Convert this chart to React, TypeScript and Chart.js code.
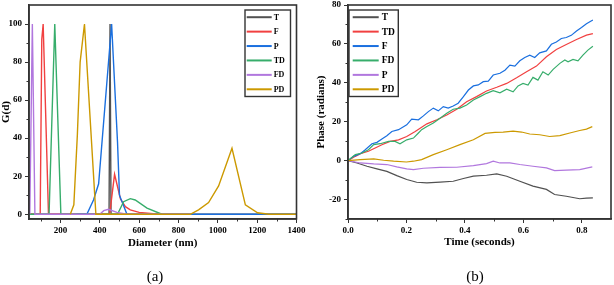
import React, { useEffect, useRef } from 'react';
import { Chart, registerables } from 'chart.js';
Chart.register(...registerables);

const FONT = '"Liberation Serif", "Times New Roman", serif';
const AXIS = '#333333';

// ---------- Chart (a): size distribution ----------
const seriesA = ['T', 'F', 'P', 'TD', 'FD', 'PD'];
const colorsA = ['#515151', '#F14040', '#1A6FDF', '#37AD6B', '#B177DE', '#CC9900'];

const diamT = [40, 447, 452, 457, 1400];
const gT = [0, 0, 100, 0, 0];
const diamF = [40, 97, 105, 112, 139, 450, 475, 505, 530, 555, 600, 700];
const gF = [0, 0, 92, 100, 0, 0, 21, 8, 4, 2.3, 1, 0];
const diamP = [280, 334, 368, 394, 460, 490, 500, 538, 1400];
const gP = [0, 0, 7.5, 16, 100, 38, 10, 0, 0];
const diamTD = [40, 142, 171, 202, 490, 521, 555, 580, 640, 716];
const gTD = [0, 0, 100, 0, 0, 6.6, 8.2, 7.5, 3.2, 0];
const diamFD = [44, 57, 70, 400, 420, 444, 487, 538, 860];
const gFD = [0, 100, 0, 0, 1.9, 2.6, 1, 0, 0];
const diamPD = [250, 268, 286, 300, 322, 380, 860, 902, 953, 1004, 1072, 1140, 1202, 1260, 1400];
const gPD = [0, 5, 42, 80, 100, 0, 0, 2.3, 6.1, 14.9, 34.7, 4.9, 0.8, 0, 0];

const xTicksA = [200, 400, 600, 800, 1000, 1200, 1400];
const xMinorA = [100, 300, 500, 700, 900, 1100, 1300];
const yTicksA = [0, 20, 40, 60, 80, 100];
const yMinorA = [10, 30, 50, 70, 90];

// ---------- Chart (b): phase vs time ----------
const seriesB = ['T', 'TD', 'F', 'FD', 'P', 'PD'];
const colorsB = ['#515151', '#F14040', '#1A6FDF', '#37AD6B', '#B177DE', '#CC9900'];

const timeT = [0, 0.031, 0.065, 0.099, 0.133, 0.167, 0.201, 0.235, 0.27, 0.315, 0.36, 0.395, 0.429, 0.474, 0.509, 0.543, 0.588, 0.633, 0.679, 0.707, 0.747, 0.793, 0.816, 0.838];
const phaseT = [0, -1.2, -2.9, -4.2, -5.5, -7.7, -9.7, -11.1, -11.4, -11.0, -10.6, -9.2, -8.0, -7.5, -6.8, -8.0, -10.6, -13.1, -14.8, -17.4, -18.3, -19.6, -19.3, -19.1];

const timeTD = [0, 0.025, 0.048, 0.07, 0.093, 0.116, 0.144, 0.173, 0.201, 0.23, 0.27, 0.304, 0.338, 0.372, 0.406, 0.44, 0.474, 0.509, 0.543, 0.577, 0.611, 0.645, 0.679, 0.713, 0.747, 0.782, 0.816, 0.838];
const phaseTD = [0, 2.2, 3.9, 4.8, 6.5, 8.2, 9.9, 10.7, 12.4, 15.0, 18.9, 21.0, 23.5, 26.4, 30.3, 32.9, 35.8, 37.7, 39.7, 42.6, 45.7, 48.6, 53.4, 57.1, 59.7, 62.3, 64.5, 65.3];

const timeF = [0, 0.019, 0.042, 0.059, 0.082, 0.099, 0.116, 0.133, 0.15, 0.173, 0.201, 0.218, 0.241, 0.258, 0.275, 0.292, 0.309, 0.326, 0.343, 0.36, 0.377, 0.395, 0.412, 0.429, 0.446, 0.463, 0.48, 0.497, 0.52, 0.537, 0.554, 0.571, 0.588, 0.605, 0.622, 0.639, 0.656, 0.679, 0.696, 0.713, 0.73, 0.747, 0.764, 0.782, 0.799, 0.816, 0.838];
const phaseF = [0, 2.2, 3.6, 5.6, 8.7, 9.4, 11.1, 12.8, 15.0, 15.9, 18.4, 21.3, 21.0, 23.0, 25.2, 27.0, 25.6, 27.8, 27.0, 28.1, 29.5, 32.9, 36.3, 38.4, 38.9, 40.6, 40.9, 44.0, 44.9, 46.5, 49.1, 48.6, 51.3, 53.0, 54.2, 53.0, 55.4, 56.4, 59.8, 61.0, 62.8, 63.3, 64.4, 66.6, 68.4, 70.4, 72.3];

const timeFD = [0, 0.025, 0.048, 0.07, 0.088, 0.11, 0.139, 0.161, 0.178, 0.201, 0.224, 0.241, 0.252, 0.27, 0.292, 0.315, 0.338, 0.36, 0.383, 0.406, 0.429, 0.452, 0.474, 0.497, 0.52, 0.543, 0.565, 0.582, 0.599, 0.616, 0.633, 0.65, 0.667, 0.685, 0.702, 0.725, 0.742, 0.753, 0.77, 0.787, 0.804, 0.821, 0.838];
const phaseFD = [0, 3.1, 3.9, 5.6, 8.2, 8.7, 9.9, 9.9, 8.7, 10.7, 11.6, 14.2, 15.9, 17.5, 19.3, 21.8, 24.4, 26.4, 27.0, 28.6, 31.2, 32.9, 34.6, 36.0, 34.9, 36.7, 35.4, 38.4, 39.7, 38.9, 42.8, 41.4, 45.7, 44.0, 46.9, 50.0, 51.7, 50.8, 52.0, 51.3, 54.2, 56.8, 58.8];

const timeP = [0, 0.042, 0.088, 0.133, 0.167, 0.201, 0.224, 0.258, 0.315, 0.372, 0.429, 0.474, 0.497, 0.52, 0.554, 0.588, 0.633, 0.679, 0.707, 0.747, 0.793, 0.836];
const phaseP = [0, -1.2, -1.7, -2.0, -3.2, -4.2, -4.6, -3.9, -3.5, -3.4, -2.6, -1.5, -0.3, -1.2, -1.2, -2.0, -2.9, -3.7, -5.1, -4.9, -4.6, -3.2];

const timePD = [0, 0.042, 0.088, 0.122, 0.156, 0.2, 0.224, 0.252, 0.292, 0.338, 0.383, 0.429, 0.469, 0.503, 0.531, 0.565, 0.594, 0.622, 0.656, 0.69, 0.725, 0.759, 0.793, 0.816, 0.836];
const phasePD = [0, 0.5, 0.9, 0.2, -0.3, -0.7, -0.3, 0.5, 3.1, 5.6, 8.2, 10.7, 14.0, 14.5, 14.7, 15.2, 14.7, 13.7, 13.3, 12.4, 12.9, 14.2, 15.5, 16.2, 17.5];

const xTicksB = [0, 0.2, 0.4, 0.6, 0.8];
const xMinorB = [0.1, 0.3, 0.5, 0.7];
const yTicksB = [-20, 0, 20, 40, 60, 80];
const yMinorB = [-30, -10, 10, 30, 50, 70];

const xs = (a: number[], b: number[]) => a.map((v, i) => ({ x: v, y: b[i] }));

const dataA = [
  xs(diamT, gT), xs(diamF, gF), xs(diamP, gP), xs(diamTD, gTD), xs(diamFD, gFD), xs(diamPD, gPD),
];
const dataB = [
  xs(timeT, phaseT), xs(timeTD, phaseTD), xs(timeF, phaseF), xs(timeFD, phaseFD), xs(timeP, phaseP), xs(timePD, phasePD),
];

// ---------- plugin: frame, minor ticks, boxed legend ----------
const decorPlugin = {
  id: 'decor',
  afterDatasetsDraw(chart: any, _args: any, o: any) {
    const { ctx, chartArea: a, scales } = chart;
    ctx.save();
    ctx.strokeStyle = AXIS;
    ctx.lineWidth = 1;
    ctx.beginPath();
    for (const v of o.minorX) {
      const px = Math.round(scales.x.getPixelForValue(v)) + 0.5;
      ctx.moveTo(px, a.bottom);
      ctx.lineTo(px, a.bottom + 2.5);
    }
    for (const v of o.minorY) {
      const py = Math.round(scales.y.getPixelForValue(v)) + 0.5;
      ctx.moveTo(a.left, py);
      ctx.lineTo(a.left - 2.5, py);
    }
    ctx.stroke();
    ctx.lineWidth = 1.6;
    ctx.strokeRect(a.left, a.top, a.right - a.left, a.bottom - a.top);

    // legend box
    const L = o.legend;
    ctx.fillStyle = '#ffffff';
    ctx.fillRect(L.left, L.top, L.width, L.height);
    ctx.lineWidth = 1.4;
    ctx.strokeStyle = AXIS;
    ctx.strokeRect(L.left, L.top, L.width, L.height);
    const rowH = L.height / o.labels.length;
    ctx.font = `bold ${L.fontSize}px ${FONT}`;
    ctx.textBaseline = 'middle';
    ctx.textAlign = 'left';
    o.labels.forEach((lab: string, i: number) => {
      const cy = L.top + rowH * (i + 0.5);
      ctx.strokeStyle = o.colors[i];
      ctx.lineWidth = 2;
      ctx.beginPath();
      ctx.moveTo(L.left + L.lineStart, cy);
      ctx.lineTo(L.left + L.lineStart + L.lineLen, cy);
      ctx.stroke();
      ctx.fillStyle = '#000';
      ctx.fillText(lab, L.left + L.lineStart + L.lineLen + L.gap, cy + 0.5);
    });
    ctx.restore();
  },
};

function axisX(min: number, max: number, ticks: number[], title: string, fmt: (v: number) => string, titlePad: number) {
  return {
    type: 'linear',
    min,
    max,
    afterBuildTicks: (s: any) => { s.ticks = ticks.map((v) => ({ value: v })); },
    afterFit: (s: any) => { s.height = 66; s.paddingLeft = 0; s.paddingRight = 0; },
    grid: { drawOnChartArea: false, drawTicks: true, tickLength: 4, tickColor: AXIS, tickWidth: 1 },
    border: { display: true, color: AXIS, width: 1.6 },
    ticks: { color: '#000', font: { family: FONT, size: 9, weight: 'bold' }, padding: 2, maxRotation: 0, autoSkip: false, callback: (v: any) => fmt(Number(v)) },
    title: { display: true, text: title, color: '#000', font: { family: FONT, size: 11, weight: 'bold' }, padding: { top: 0, bottom: titlePad } },
  };
}

function axisY(min: number, max: number, ticks: number[], title: string, width: number, titlePad: number) {
  return {
    type: 'linear',
    min,
    max,
    afterBuildTicks: (s: any) => { s.ticks = ticks.map((v) => ({ value: v })); },
    afterFit: (s: any) => { s.width = width; s.paddingTop = 0; s.paddingBottom = 0; },
    grid: { drawOnChartArea: false, drawTicks: true, tickLength: 4, tickColor: AXIS, tickWidth: 1 },
    border: { display: true, color: AXIS, width: 1.6 },
    ticks: { color: '#000', font: { family: FONT, size: 9, weight: 'bold' }, padding: 3, autoSkip: false, callback: (v: any) => String(v) },
    title: { display: true, text: title, color: '#000', font: { family: FONT, size: 11, weight: 'bold' }, padding: { top: titlePad, bottom: 0 } },
  };
}

function makeDatasets(labels: string[], colors: string[], data: any[], lw: number) {
  // reversed so the last series is drawn on top
  return labels
    .map((l, i) => ({
      label: l,
      data: data[i],
      borderColor: colors[i],
      backgroundColor: colors[i],
      borderWidth: lw,
      pointRadius: 0,
      tension: 0,
      fill: false,
    }))
    .reverse();
}

function configA(): any {
  return {
    type: 'line',
    data: { datasets: makeDatasets(seriesA, colorsA, dataA, 1.4) },
    options: {
      responsive: false,
      animation: false,
      layout: { padding: { left: 0, right: 10.5, top: 5, bottom: 0 } },
      scales: {
        x: axisX(40, 1400, xTicksA, 'Diameter (nm)', (v) => String(v), 35),
        y: axisY(-2.5, 110, yTicksA, 'G(d)', 29, 0),
      },
      plugins: {
        legend: { display: false },
        tooltip: { enabled: false },
        decor: {
          minorX: xMinorA,
          minorY: yMinorA,
          labels: seriesA,
          colors: colorsA,
          legend: { left: 245, top: 10, width: 45.5, height: 86.5, lineStart: 1.7, lineLen: 25, gap: 2, fontSize: 8 },
        },
      },
    },
    plugins: [decorPlugin],
  };
}

function configB(): any {
  return {
    type: 'line',
    data: { datasets: makeDatasets(seriesB, colorsB, dataB, 1.2) },
    options: {
      responsive: false,
      animation: false,
      layout: { padding: { left: 0, right: 3, top: 5, bottom: 0 } },
      scales: {
        x: axisX(0, 0.9, xTicksB, 'Time (seconds)', (v) => v.toFixed(1), 36),
        y: axisY(-30, 80, yTicksB, 'Phase (radians)', 41, 7.4),
      },
      plugins: {
        legend: { display: false },
        tooltip: { enabled: false },
        decor: {
          minorX: xMinorB,
          minorY: yMinorB,
          labels: seriesB,
          colors: colorsB,
          legend: { left: 42, top: 10, width: 49.3, height: 86.5, lineStart: 3.7, lineLen: 26, gap: 3, fontSize: 9.5 },
        },
      },
    },
    plugins: [decorPlugin],
  };
}

export default function App() {
  const refA = useRef<HTMLCanvasElement>(null);
  const refB = useRef<HTMLCanvasElement>(null);
  useEffect(() => {
    const a = new Chart(refA.current as HTMLCanvasElement, configA());
    const b = new Chart(refB.current as HTMLCanvasElement, configB());
    return () => {
      a.destroy();
      b.destroy();
    };
  }, []);
  const cap: React.CSSProperties = {
    position: 'absolute',
    top: 267,
    width: 40,
    textAlign: 'center',
    fontFamily: FONT,
    fontSize: 15,
    lineHeight: '18px',
    color: '#000',
  };
  return (
    <div style={{ position: 'absolute', left: 0, top: 0, width: 614, height: 285, background: '#fff', overflow: 'hidden' }}>
      <canvas ref={refA} width={307} height={285} style={{ position: 'absolute', left: 0, top: 0 }} />
      <canvas ref={refB} width={307} height={285} style={{ position: 'absolute', left: 307, top: 0 }} />
      <div style={{ ...cap, left: 135 }}>(a)</div>
      <div style={{ ...cap, left: 455 }}>(b)</div>
    </div>
  );
}
